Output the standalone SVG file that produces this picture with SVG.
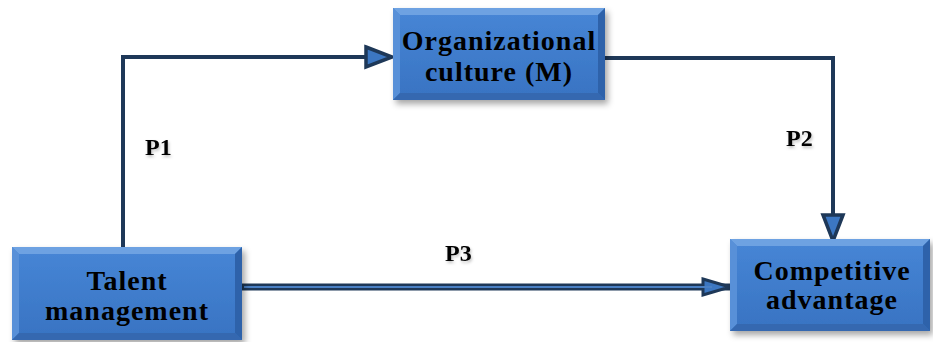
<svg xmlns="http://www.w3.org/2000/svg" width="933" height="342" viewBox="0 0 933 342">
  <defs>
    <linearGradient id="face" x1="0" y1="0" x2="0" y2="1">
      <stop offset="0" stop-color="#4786d6"/>
      <stop offset="1" stop-color="#3873c2"/>
    </linearGradient>
    <filter id="shadow" x="-10%" y="-10%" width="125%" height="130%">
      <feDropShadow dx="3" dy="4" stdDeviation="3" flood-color="#000" flood-opacity="0.35"/>
    </filter>
    <filter id="tshadow" x="-20%" y="-20%" width="150%" height="160%">
      <feDropShadow dx="1" dy="2" stdDeviation="1.5" flood-color="#000" flood-opacity="0.25"/>
    </filter>
    <marker id="arrow" markerUnits="userSpaceOnUse" markerWidth="32" markerHeight="26" viewBox="0 0 32 26" refX="29" refY="13" orient="auto">
      <path d="M3,3 L29,13 L3,23 Z" fill="#3c77c2" stroke="#1e3858" stroke-width="3.5" stroke-linejoin="miter"/>
    </marker>
    <marker id="arrow2" markerUnits="userSpaceOnUse" markerWidth="32" markerHeight="22" viewBox="0 0 32 22" refX="30" refY="11" orient="auto">
      <path d="M3,3 L30,11 L3,19 Z" fill="#3c77c2" stroke="#1e3858" stroke-width="3" stroke-linejoin="miter"/>
    </marker>
  </defs>
  <style>
    .face { fill: url(#face); }
    .bt { fill: #6ea2e2; }
    .bl { fill: #5890d8; }
    .br { fill: #2d62aa; }
    .bb { fill: #3468b0; }
    .box { filter: url(#shadow); }
    .node text { font-family: "Liberation Serif", "Times New Roman", serif; font-weight: bold; font-size: 28px; fill: #000; text-anchor: middle; letter-spacing: 1px; }
    .lbl { font-family: "Liberation Serif", "Times New Roman", serif; font-weight: bold; font-size: 24px; fill: #000; filter: url(#tshadow); }
    .conn { fill: none; stroke: #1e3858; stroke-width: 4; stroke-linejoin: miter; }
  </style>
  <rect width="933" height="342" fill="#ffffff"/>

  <g id="connectors">
    <path class="conn" d="M123,249 L123,57 L392,57" marker-end="url(#arrow)"/>
    <path class="conn" d="M605,58 L833,58 L833,241" marker-end="url(#arrow)"/>
    <line x1="242" y1="287" x2="730" y2="287" stroke="#1e3858" stroke-width="7" marker-end="url(#arrow2)"/>
    <line x1="244" y1="287" x2="712" y2="287" stroke="#4a80c4" stroke-width="2"/>
  </g>

  <g id="node-org" class="node">
    <g class="box">
      <rect x="393" y="8" width="212" height="92" class="face"/>
      <polygon class="bt" points="393,8 605,8 598,15 400,15"/>
      <polygon class="bl" points="393,8 400,15 400,93 393,100"/>
      <polygon class="br" points="605,8 605,100 598,93 598,15"/>
      <polygon class="bb" points="393,100 605,100 598,93 400,93"/>
    </g>
    <text x="499" y="50">Organizational</text>
    <text x="499" y="81">culture (M)</text>
  </g>

  <g id="node-talent" class="node">
    <g class="box">
      <rect x="12" y="247" width="230" height="93" class="face"/>
      <polygon class="bt" points="12,247 242,247 235,254 19,254"/>
      <polygon class="bl" points="12,247 19,254 19,333 12,340"/>
      <polygon class="br" points="242,247 242,340 235,333 235,254"/>
      <polygon class="bb" points="12,340 242,340 235,333 19,333"/>
    </g>
    <text x="127" y="290">Talent</text>
    <text x="127" y="320">management</text>
  </g>

  <g id="node-comp" class="node">
    <g class="box">
      <rect x="730" y="239" width="200" height="92" class="face"/>
      <polygon class="bt" points="730,239 930,239 923,246 737,246"/>
      <polygon class="bl" points="730,239 737,246 737,324 730,331"/>
      <polygon class="br" points="930,239 930,331 923,324 923,246"/>
      <polygon class="bb" points="730,331 930,331 923,324 737,324"/>
    </g>
    <text x="832" y="280">Competitive</text>
    <text x="832" y="309">advantage</text>
  </g>

  <g id="labels">
    <text class="lbl" x="145" y="155">P1</text>
    <text class="lbl" x="786" y="146">P2</text>
    <text class="lbl" x="445" y="261">P3</text>
  </g>
</svg>
